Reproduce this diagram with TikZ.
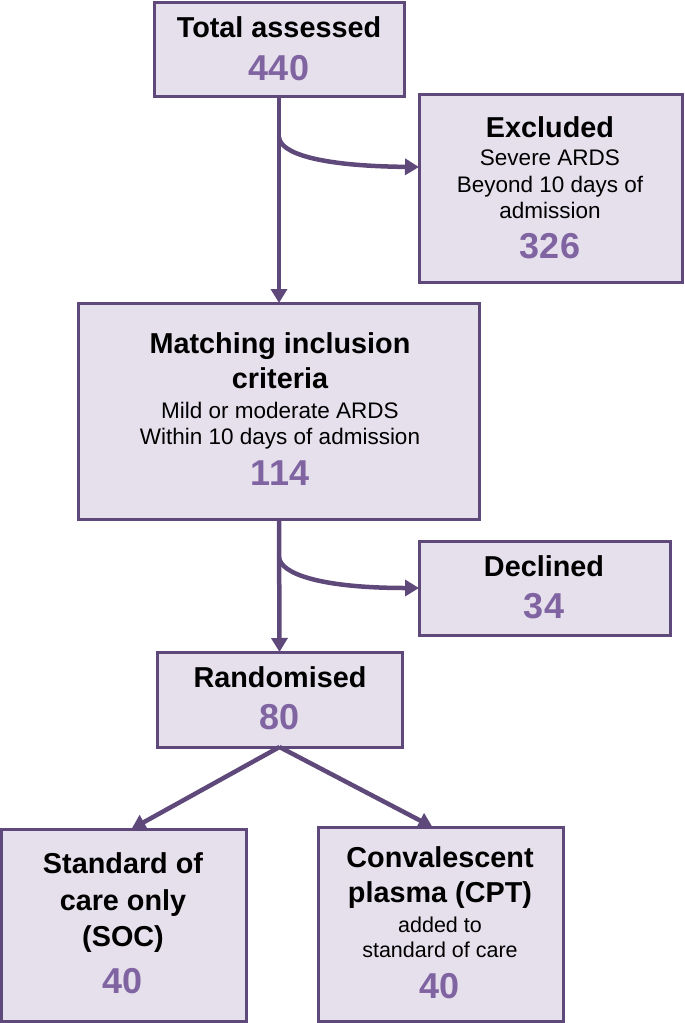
\documentclass[tikz,border=0pt]{standalone}
\usepackage{fontspec}
\setmainfont{Liberation Sans}
\usetikzlibrary{arrows.meta}
\definecolor{boxline}{HTML}{5F497A}
\definecolor{boxfill}{HTML}{E5E0EC}
\definecolor{numcol}{HTML}{8064A2}
\newcommand{\myttl}{\fontsize{28.8}{30}\selectfont\bfseries}
\newcommand{\mynum}{\fontsize{36}{38}\selectfont\bfseries\color{numcol}}
\newcommand{\mysub}{\fontsize{22.5}{24}\selectfont}
\newcommand{\mysmall}{\fontsize{21.5}{23}\selectfont}
\begin{document}
\begin{tikzpicture}[x=1pt,y=-1pt,
  box/.style={draw=boxline, fill=boxfill, line width=3pt, inner sep=0pt, outer sep=0pt},
  ttl/.style={anchor=base, inner sep=0pt, font=\myttl},
  num/.style={anchor=base, inner sep=0pt, font=\mynum},
  sub/.style={anchor=base, inner sep=0pt, font=\mysub},
  small/.style={anchor=base, inner sep=0pt, font=\mysmall},
  arr/.style={draw=boxline, line width=4.5pt, -{Triangle[length=14pt,width=16pt]}}]
\useasboundingbox (0,0) rectangle (685,1023);
% boxes
\node[box, minimum width=250pt, minimum height=94pt] (total) at (279,49) {};
\node[box, minimum width=263pt, minimum height=188pt] (excl) at (550.5,188) {};
\node[box, minimum width=401pt, minimum height=216pt] (match) at (279,411) {};
\node[box, minimum width=251pt, minimum height=94pt] (decl) at (544.5,588) {};
\node[box, minimum width=245pt, minimum height=95pt] (rand) at (279.5,699.5) {};
\node[box, minimum width=245pt, minimum height=192pt] (soc) at (123.5,925) {};
\node[box, minimum width=245pt, minimum height=194pt] (cpt) at (440.5,924) {};
% texts
\node[ttl] (t1) at (279,37) {Total assessed};
\node[num] (n1) at (279,80) {440};
\node[ttl] (t2) at (550,137) {Excluded};
\node[sub] (s2a) at (550,165) {Severe ARDS};
\node[sub] (s2b) at (550,192) {Beyond 10 days of};
\node[sub] (s2c) at (550,218) {admission};
\node[num] (n2) at (550,258) {326};
\node[ttl] (t3a) at (280,353) {Matching inclusion};
\node[ttl] (t3b) at (280,388) {criteria};
\node[sub] (s3a) at (280,418) {Mild or moderate ARDS};
\node[sub] (s3b) at (280,444) {Within 10 days of admission};
\node[num] (n3) at (280,485) {114};
\node[ttl] (t4) at (544,576) {Declined};
\node[num] (n4) at (544,618) {34};
\node[ttl] (t5) at (280,687) {Randomised};
\node[num] (n5) at (280,729) {80};
\node[ttl] (t6a) at (123,873) {Standard of};
\node[ttl] (t6b) at (123,910) {care only};
\node[ttl] (t6c) at (123,946) {(SOC)};
\node[num] (n6) at (123,993) {40};
\node[ttl] (t7a) at (440,867) {Convalescent};
\node[ttl] (t7b) at (440,902) {plasma (CPT)};
\node[small] (s7a) at (440,932) {added to};
\node[small] (s7b) at (440,957) {standard of care};
\node[num] (n7) at (440,998) {40};
% connectors
\coordinate (b1) at (279,137);
\coordinate (b2) at (279,557);
\draw[arr] (total.south) -- (match.north);
\draw[arr] (b1) .. controls (280,153) and (318,166) .. ([yshift=21pt]excl.west);
\draw[arr] (match.south) -- (rand.north);
\draw[arr] (b2) .. controls (280,573) and (318,588) .. (decl.west);
\draw[arr] (rand.south) -- ([xshift=8pt]soc.north);
\draw[arr] (rand.south) -- ([xshift=-8pt]cpt.north);
\end{tikzpicture}
\end{document}
